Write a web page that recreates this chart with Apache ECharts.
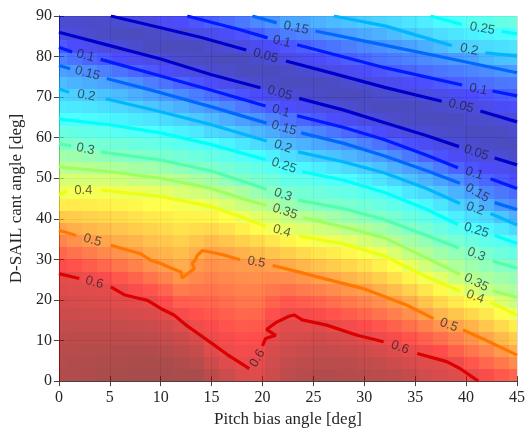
<!DOCTYPE html>
<html>
<head>
<meta charset="utf-8">
<script src="https://cdn.jsdelivr.net/npm/echarts@6/dist/echarts.min.js"></script>
<style>
html, body { margin: 0; padding: 0; background: #fff; }
#main { width: 528px; height: 433px; }
</style>
</head>
<body>
<div id="main"></div>
<script>
// cell centres of the shaded map
var pitchCols = [0, 1.5, 3, 4.5, 6, 7.5, 9, 10.5, 12, 13.5, 15, 16.5, 18, 19.5, 21, 22.5,
    24, 25.5, 27, 28.5, 30, 31.5, 33, 34.5, 36, 37.5, 39, 40.5, 42, 43.5, 45];
var cantRows = [1.5, 4.5, 7.5, 10.5, 13.5, 16.5, 19.5, 22.5, 25.5, 28.5, 31.5, 34.5, 37.5, 40.5, 43.5,
    46.5, 49.5, 52.5, 55.5, 58.5, 61.5, 64.5, 67.5, 70.5, 73.5, 76.5, 79.5, 82.5, 85.5, 88.5];
// one row per cant angle (bottom to top), one value per pitch column
var ratio = [
    [.648, .650, .652, .655, .658, .660, .660, .660, .658, .655, .640, .625, .610, .607, .624, .638, .643, .648, .648, .647, .645, .642, .637, .630, .620, .613, .607, .596, .581, .565, .554],
    [.646, .648, .650, .652, .654, .656, .656, .655, .651, .645, .626, .608, .599, .601, .620, .632, .637, .642, .641, .640, .636, .632, .625, .615, .607, .603, .591, .568, .552, .536, .521],
    [.643, .645, .646, .647, .648, .650, .648, .645, .638, .630, .608, .596, .587, .590, .613, .623, .628, .633, .631, .628, .622, .615, .607, .598, .588, .576, .559, .540, .524, .507, .489],
    [.638, .640, .640, .640, .640, .640, .638, .632, .624, .612, .595, .584, .575, .577, .605, .613, .617, .621, .617, .612, .604, .596, .584, .571, .558, .544, .528, .512, .495, .477, .459],
    [.632, .633, .632, .631, .630, .628, .626, .618, .608, .591, .582, .571, .564, .565, .594, .605, .605, .606, .597, .587, .578, .569, .557, .544, .529, .512, .497, .481, .464, .446, .429],
    [.625, .625, .623, .621, .618, .615, .612, .603, .585, .574, .568, .559, .552, .553, .575, .592, .587, .581, .571, .562, .553, .542, .530, .516, .499, .480, .465, .448, .434, .415, .398],
    [.618, .617, .614, .611, .607, .604, .599, .580, .560, .557, .555, .547, .540, .540, .556, .567, .561, .554, .545, .536, .527, .516, .503, .487, .467, .449, .433, .415, .403, .380, .363],
    [.610, .608, .606, .602, .595, .583, .570, .554, .534, .540, .541, .534, .529, .528, .538, .543, .535, .528, .519, .510, .502, .488, .472, .455, .435, .418, .401, .380, .359, .345, .337],
    [.603, .600, .591, .582, .567, .556, .541, .527, .509, .523, .528, .522, .517, .516, .519, .517, .509, .501, .492, .481, .471, .458, .442, .423, .403, .386, .365, .346, .333, .324, .316],
    [.581, .572, .562, .552, .540, .529, .513, .500, .489, .506, .514, .510, .505, .503, .500, .490, .479, .469, .460, .451, .440, .427, .411, .391, .371, .352, .337, .324, .312, .303, .294],
    [.553, .543, .533, .523, .513, .503, .489, .482, .472, .486, .501, .494, .484, .477, .467, .457, .446, .437, .429, .420, .408, .397, .379, .360, .341, .325, .313, .302, .290, .280, .270],
    [.525, .514, .504, .495, .488, .481, .471, .464, .456, .465, .475, .466, .456, .446, .435, .423, .412, .404, .398, .387, .375, .362, .346, .329, .314, .298, .288, .276, .266, .257, .243],
    [.497, .486, .479, .473, .466, .460, .452, .446, .439, .444, .449, .439, .427, .415, .402, .390, .380, .371, .363, .351, .341, .329, .315, .299, .288, .275, .261, .249, .240, .228, .211],
    [.462, .459, .454, .450, .445, .440, .433, .429, .422, .423, .422, .411, .399, .385, .373, .359, .348, .337, .328, .318, .308, .298, .288, .276, .265, .252, .234, .221, .211, .194, .174],
    [.428, .431, .429, .427, .423, .419, .414, .411, .406, .402, .394, .380, .366, .355, .341, .322, .311, .302, .296, .291, .283, .275, .265, .254, .240, .224, .206, .192, .173, .151, .138],
    [.396, .404, .404, .404, .401, .397, .392, .387, .378, .370, .361, .348, .333, .319, .304, .291, .285, .280, .275, .269, .261, .253, .240, .225, .211, .195, .177, .160, .136, .123, .110],
    [.374, .376, .375, .373, .369, .364, .359, .353, .344, .336, .327, .312, .299, .290, .281, .269, .265, .259, .254, .246, .234, .222, .209, .194, .178, .162, .146, .125, .107, .095, .083],
    [.352, .349, .346, .342, .337, .331, .326, .319, .310, .301, .295, .286, .277, .269, .260, .246, .240, .232, .223, .213, .202, .190, .175, .159, .143, .124, .104, .090, .079, .068, .057],
    [.326, .322, .315, .310, .304, .299, .295, .290, .284, .278, .272, .264, .255, .247, .234, .217, .208, .199, .190, .180, .168, .155, .139, .122, .104, .088, .075, .062, .051, .043, .035],
    [.300, .295, .289, .285, .281, .277, .273, .268, .261, .255, .248, .238, .226, .215, .202, .186, .177, .167, .158, .146, .132, .118, .101, .086, .072, .058, .048, .038, .032, .025, .025],
    [.275, .271, .267, .263, .259, .255, .251, .244, .235, .227, .212, .206, .194, .182, .169, .154, .145, .133, .121, .108, .094, .081, .066, .052, .045, .035, .030, .025, .025, .028, .040],
    [.251, .248, .245, .240, .236, .230, .223, .215, .206, .197, .185, .173, .160, .148, .134, .119, .106, .095, .084, .072, .058, .048, .035, .028, .025, .022, .025, .035, .040, .047, .054],
    [.230, .226, .222, .217, .211, .204, .195, .185, .174, .162, .151, .138, .124, .111, .097, .084, .072, .060, .050, .040, .030, .022, .022, .025, .030, .038, .045, .053, .062, .074, .078],
    [.210, .204, .198, .191, .183, .173, .164, .153, .140, .127, .115, .101, .088, .074, .062, .050, .035, .030, .025, .022, .025, .035, .040, .047, .053, .064, .073, .082, .089, .097, .102],
    [.187, .178, .171, .163, .152, .142, .129, .117, .104, .091, .076, .063, .050, .040, .030, .025, .022, .022, .030, .040, .048, .058, .067, .077, .085, .094, .102, .110, .115, .123, .124],
    [.161, .153, .142, .130, .117, .106, .093, .080, .066, .052, .042, .035, .025, .020, .025, .030, .042, .048, .057, .068, .078, .089, .098, .106, .113, .121, .127, .135, .141, .148, .155],
    [.131, .118, .106, .094, .081, .070, .057, .045, .035, .030, .022, .020, .025, .038, .048, .058, .068, .079, .089, .099, .109, .118, .125, .132, .139, .147, .155, .163, .179, .190, .193],
    [.097, .081, .069, .056, .046, .038, .025, .020, .020, .025, .035, .045, .057, .068, .080, .091, .100, .111, .120, .129, .138, .145, .152, .162, .173, .186, .200, .208, .213, .218, .222],
    [.057, .048, .038, .030, .025, .022, .030, .035, .045, .055, .064, .079, .089, .101, .116, .127, .135, .143, .151, .160, .168, .176, .186, .198, .208, .217, .225, .234, .239, .244, .249],
    [.038, .039, .033, .035, .040, .048, .058, .070, .080, .090, .101, .112, .122, .137, .149, .165, .165, .177, .184, .192, .200, .207, .214, .222, .232, .243, .252, .259, .262, .270, .275]
];

// contour lines: pieces of [pitch, cant], a label sits in each gap between pieces
var up025 = [[[36.5, 90], [39.6, 87.9]], [[43.5, 86.2], [45, 85.6]]];
var up025Labels = [[41.6, 86.9]];
var up02 = [[[27, 90], [32.1, 87.5], [38.6, 82.7]], [[41.9, 80.9], [45, 80.1]]];
var up02Labels = [[40.3, 81.7]];
var up015 = [[[19, 90], [21.4, 88.3]], [[25.2, 86.3], [31.6, 83], [38, 79.7], [45, 76]]];
var up015Labels = [[23.3, 87.1]];
var up01 = [[[12.6, 90], [17.8, 86.6], [20.5, 84.6]], [[23.4, 82.9], [32.1, 77.2], [39.6, 73]], [[42.6, 71.5], [45, 70.3]]];
var up01Labels = [[21.9, 83.7], [41.2, 71.9]];
var up005 = [[[5.1, 90], [10, 87.1], [14, 84.7], [18.4, 81.6]], [[22.3, 78.9], [27, 75.8], [32, 72.4], [37.6, 69]], [[41.4, 66.6], [45, 63.9]]];
var up005Labels = [[20.3, 80.2], [39.5, 67.8]];
var low005 = [[[0, 86], [5, 82.7], [10, 79.4], [15, 75.5], [19.8, 72.3]], [[23.6, 69.7], [28, 66.8], [32, 63.7], [36, 60.6], [39.3, 57.8]], [[42.8, 55], [45, 53.3]]];
var low005Labels = [[21.7, 71], [41, 56.3]];
var low01 = [[[0, 82.3], [1.3, 81.1]], [[4.1, 79.3], [10, 75.2], [15, 71.7], [20.3, 67.8]], [[23.4, 65.4], [28, 62.5], [32, 59.5], [36, 55.8], [39.2, 52.6]], [[42.4, 49.9], [45, 47.5]]];
var low01Labels = [[2.6, 80.2], [21.8, 66.6], [40.8, 51.2]];
var low015 = [[[0, 77.8], [1.1, 77]], [[4.7, 74.6], [10, 71.1], [15, 67.6], [20.4, 63.6]], [[23.8, 61.2], [28, 58.6], [32, 55.5], [36, 52], [39.4, 48.8]], [[42.8, 44], [45, 42.3]]];
var low015Labels = [[2.8, 75.9], [22.1, 62.4], [41.1, 46.4]];
var low02 = [[[0, 72], [1, 71.2]], [[4.6, 69.6], [10, 66.4], [15, 63.2], [20.4, 59.2]], [[23.5, 56.5], [28, 54], [32, 51.3], [36, 47.6], [39.4, 43.8]], [[42.4, 41.3], [45, 38.5]]];
var low02Labels = [[2.7, 70.4], [22, 57.8], [40.9, 42.5]];
var low025 = [[[0, 64.6], [5, 63.2], [10, 61.2], [15, 58.3], [20.3, 54.6]], [[23.9, 51.6], [28, 49.5], [32, 46.5], [36, 42.5], [39.2, 38.6]], [[42.8, 35.9], [45, 33.9]]];
var low025Labels = [[22.1, 53.1], [41, 37.2]];
var low03 = [[[0, 58.5], [1.2, 58]], [[4.1, 56.5], [10, 54.5], [15, 51.8], [18, 49.3], [20.4, 47.3]], [[23.5, 44.6], [28, 42.5], [32, 39.8], [36, 36], [39.3, 32.8]], [[42.6, 29.6], [45, 27.8]]];
var low03Labels = [[2.6, 57.2], [22, 45.9], [41, 31.2]];
var low035 = [[[0, 52.8], [5, 51.6], [10, 50], [15, 47.5], [18, 45], [20.4, 43.3]], [[24, 40.3], [28, 38], [32, 35.3], [36, 30.5], [39.4, 26.3]], [[42.6, 22.3], [45, 20.6]]];
var low035Labels = [[22.2, 41.8], [41, 24.3]];
var low04 = [[[0, 45.9], [0.8, 46.9]], [[4.1, 47.1], [10, 45.5], [15, 43], [18, 40.4], [20.3, 38.2]], [[23.6, 35.8], [28, 33.8], [32, 30.8], [36, 25.8], [39.4, 22.2]], [[42.4, 19.4], [45, 16.3]]];
var low04Labels = [[2.4, 47], [21.9, 37], [40.9, 20.8]];
var low05 = [[[0, 37.2], [1.7, 35.9]],
    [[5.1, 33.5], [8, 31.4], [9, 29.8], [10, 29], [11, 27.9], [12, 26.9], [12.1, 25.4], [13.3, 27.7], [13.1, 29], [13.4, 29.8], [13.6, 31], [14.1, 32.2], [16, 31.2], [17.8, 29.9]],
    [[21, 28.5], [23.7, 26.8], [25.4, 25.7], [29.9, 22.8], [34.2, 18.7], [36.8, 15.4]],
    [[39.7, 12.6], [42, 10], [45, 6.4]]];
var low05Labels = [[3.3, 34.7], [19.4, 29.3], [38.3, 13.8]];
var low06 = [[[0, 26.5], [2, 25.3]],
    [[5.1, 23.2], [6.4, 21.3], [7.7, 20.5], [8.7, 19.9], [10, 17.9], [11.3, 16.3], [12.6, 13.6], [13.9, 11.3], [15.2, 9], [16.5, 6.6], [18.7, 3.1]],
    [[20, 8.7], [20.3, 10.5], [21.3, 11.3], [20.4, 12.7], [21.3, 14.4], [22.6, 16], [23.1, 16.3], [23.9, 15.1], [26.3, 13.8], [29.3, 11.3], [31.9, 9.7]],
    [[35.2, 6.8], [38.1, 4.8], [39.4, 3.1], [41.2, 0]]];
var low06Labels = [[3.5, 24.3], [19.5, 5.6], [33.5, 8.3]];

var contourLevels = [0.25, 0.2, 0.15, 0.1, 0.05, 0.05, 0.1, 0.15, 0.2, 0.25, 0.3, 0.35, 0.4, 0.5, 0.6];
var contourTexts = ['0.25', '0.2', '0.15', '0.1', '0.05', '0.05', '0.1', '0.15', '0.2', '0.25', '0.3', '0.35', '0.4', '0.5', '0.6'];
var contourLines = [up025, up02, up015, up01, up005, low005, low01, low015, low02, low025, low03, low035, low04, low05, low06];
var contourLabels = [up025Labels, up02Labels, up015Labels, up01Labels, up005Labels, low005Labels, low01Labels,
    low015Labels, low02Labels, low025Labels, low03Labels, low035Labels, low04Labels, low05Labels, low06Labels];

var xTicks = [0, 5, 10, 15, 20, 25, 30, 35, 40, 45];
var yTicks = [0, 10, 20, 30, 40, 50, 60, 70, 80, 90];

var cMax = 0.66;
var cellW = 1.5, cellH = 3;

function jet(t) {
    t = Math.max(0, Math.min(1, t));
    function ch(v) { return Math.round(255 * Math.max(0, Math.min(1, 1.5 - Math.abs(v)))); }
    return 'rgb(' + ch(4 * t - 3) + ',' + ch(4 * t - 2) + ',' + ch(4 * t - 1) + ')';
}

var jetStops = [];
for (var s = 0; s <= 8; s++) jetStops.push(jet(s / 8));

var cells = [];
for (var j = 0; j < cantRows.length; j++) {
    for (var i = 0; i < pitchCols.length; i++) {
        cells.push([pitchCols[i], cantRows[j], ratio[j][i]]);
    }
}

var chart = echarts.init(document.getElementById('main'));

var series = [{
    type: 'custom',
    coordinateSystem: 'cartesian2d',
    data: cells,
    silent: true,
    z: 1,
    renderItem: function (params, api) {
        var x = api.value(0), y = api.value(1);
        var p0 = api.coord([Math.max(0, x - cellW / 2), Math.min(90, y + cellH / 2)]);
        var p1 = api.coord([Math.min(45, x + cellW / 2), Math.max(0, y - cellH / 2)]);
        var x0 = Math.round(p0[0]), y0 = Math.round(p0[1]);
        return {
            type: 'rect',
            shape: { x: x0, y: y0, width: Math.round(p1[0]) - x0, height: Math.round(p1[1]) - y0 },
            style: { fill: api.visual('color'), opacity: 0.7 }
        };
    }
}];

contourLines.forEach(function (pieces, c) {
    var col = jet(contourLevels[c] / cMax);
    pieces.forEach(function (piece) {
        series.push({
            type: 'line',
            data: piece,
            symbol: 'none',
            silent: true,
            z: 3,
            lineStyle: { color: col, width: 3.2 }
        });
    });
    series.push({
        type: 'custom',
        coordinateSystem: 'cartesian2d',
        data: contourLabels[c],
        silent: true,
        z: 4,
        renderItem: function (params, api) {
            var k = params.dataIndex;
            var a = api.coord(pieces[k][pieces[k].length - 1]);
            var b = api.coord(pieces[k + 1][0]);
            var p = api.coord([api.value(0), api.value(1)]);
            var ang = -Math.atan2(b[1] - a[1], b[0] - a[0]);
            return {
                type: 'text',
                x: p[0],
                y: p[1],
                rotation: ang,
                style: {
                    text: contourTexts[c],
                    fontSize: 13,
                    fontFamily: 'Liberation Sans',
                    fill: 'rgba(30,30,40,0.72)',
                    align: 'center',
                    verticalAlign: 'middle'
                }
            };
        }
    });
});

var axisFont = { fontFamily: 'Liberation Serif', fontSize: 16, color: '#262626' };

var option = {
    animation: false,
    backgroundColor: '#fff',
    grid: { left: 58, right: 10, top: 16, bottom: 50 },
    visualMap: {
        show: false,
        type: 'continuous',
        seriesIndex: 0,
        dimension: 2,
        min: 0,
        max: cMax,
        inRange: { color: jetStops }
    },
    xAxis: [{
        type: 'value', min: 0, max: 45, interval: 5,
        name: 'Pitch bias angle [deg]', nameLocation: 'middle', nameGap: 28,
        nameTextStyle: { fontFamily: 'Liberation Serif', fontSize: 17, color: '#262626' },
        axisLine: { lineStyle: { color: '#444' } },
        axisTick: { inside: true, length: 5, lineStyle: { color: '#444' } },
        axisLabel: Object.assign({ margin: 9, formatter: function (v) { return xTicks.indexOf(v) >= 0 ? v : ''; } }, axisFont),
        splitLine: { show: true, lineStyle: { color: 'rgba(0,0,0,0.13)' } }
    }, {
        type: 'value', min: 0, max: 45, interval: 5, position: 'top',
        axisLine: { lineStyle: { color: '#444' } },
        axisTick: { inside: true, length: 5, lineStyle: { color: '#444' } },
        axisLabel: { show: false },
        splitLine: { show: false }
    }],
    yAxis: [{
        type: 'value', min: 0, max: 90, interval: 10,
        name: 'D-SAIL cant angle [deg]', nameLocation: 'middle', nameGap: 31,
        nameTextStyle: { fontFamily: 'Liberation Serif', fontSize: 17, color: '#262626' },
        axisLine: { lineStyle: { color: '#444' } },
        axisTick: { inside: true, length: 5, lineStyle: { color: '#444' } },
        axisLabel: Object.assign({ margin: 7, formatter: function (v) { return yTicks.indexOf(v) >= 0 ? v : ''; } }, axisFont),
        splitLine: { show: true, lineStyle: { color: 'rgba(0,0,0,0.13)' } }
    }, {
        type: 'value', min: 0, max: 90, interval: 10, position: 'right',
        axisLine: { lineStyle: { color: '#444' } },
        axisTick: { inside: true, length: 5, lineStyle: { color: '#444' } },
        axisLabel: { show: false },
        splitLine: { show: false }
    }],
    series: series
};

chart.setOption(option);
</script>
</body>
</html>
